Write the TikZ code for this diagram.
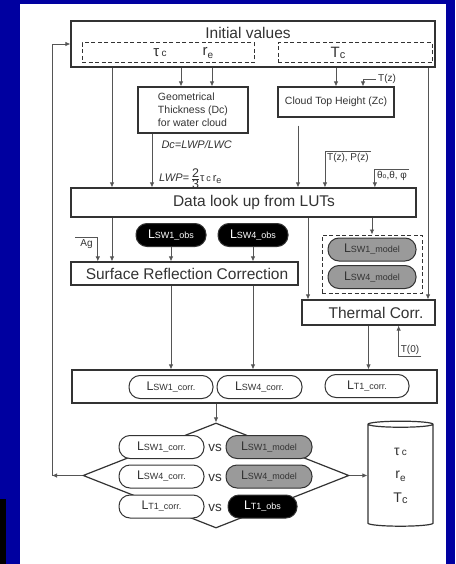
\documentclass[tikz,border=0pt]{standalone}
\usepackage{fontspec}
\setmainfont{Liberation Sans}
\usepackage{amsmath}
\usetikzlibrary{arrows.meta,positioning,shapes.geometric}
\definecolor{SlideBlue}{HTML}{0000A0}
\definecolor{BoxLine}{HTML}{333333}
\definecolor{ArrLine}{HTML}{555555}
\definecolor{ModelGray}{HTML}{9A9A9A}
\newcommand{\fsz}[2]{\fontsize{#1}{#2}\selectfont}
\newcommand{\Lname}[1]{{\fsz{12.5}{14}L}{\fsz{9}{11}#1}}

\begin{document}
\begin{tikzpicture}[x=1pt,y=-1pt,
  box/.style={draw=BoxLine,line width=1.2pt,fill=white,inner sep=0pt,text=BoxLine,font=\fsz{15.5}{18}},
  smallbox/.style={box,font=\fsz{10.5}{13}},
  dbox/.style={draw=BoxLine,line width=1pt,dash pattern=on 4pt off 2.5pt,inner sep=0pt},
  pill/.style={draw=BoxLine,line width=1pt,rounded corners=11pt,minimum height=23pt,inner sep=0pt,text=BoxLine},
  obspill/.style={pill,fill=black,text=white,minimum width=70pt},
  mdlpill/.style={pill,fill=ModelGray,minimum width=88pt},
  corpill/.style={pill,fill=white,minimum width=85pt},
  arr/.style={draw=ArrLine,line width=0.8pt,-{Latex[length=5pt,width=4.5pt]}},
  lbl/.style={font=\fsz{10}{12},text=BoxLine,inner sep=2pt}]
  \useasboundingbox (0,0) rectangle (455,564);
  \fill[SlideBlue] (0,0) rectangle (455,564);
  \fill[white] (20,4) rectangle (446,564);
  \fill[black] (0,499) rectangle (6,564);

  % x positions of the vertical connectors
  \coordinate (xa) at (112,0);
  \coordinate (xtau) at (181,0);
  \coordinate (xre) at (212,0);
  \coordinate (xgeo) at (152,0);
  \coordinate (xcth) at (298,0);
  \coordinate (xtz) at (363,0);
  \coordinate (xth) at (308,0);
  \coordinate (xr) at (428,0);
  \coordinate (fb) at (52,475.5);

  % initial values
  \node[box,minimum width=364pt,minimum height=46pt] (init) at (253,44) {};
  \node[font=\fsz{15.5}{18},text=BoxLine] (initlbl) at (248,33) {Initial values};
  \node[dbox,minimum width=172pt,minimum height=20pt] (clddash) at (168,53) {};
  \node[dbox,minimum width=154pt,minimum height=20pt] (tcdash) at (355,53) {};
  \node[font=\fsz{15}{18},text=BoxLine] (tau) at (160,53) {τ\,{\fsz{10}{12}c}};
  \node[font=\fsz{15}{18},text=BoxLine] (re) at (208,53) {r\raisebox{-2.5pt}{\fsz{10}{12}e}};
  \node[font=\fsz{15}{18},text=BoxLine] (tc) at (338,53) {T\raisebox{-1pt}{\fsz{11}{12}c}};

  % second row
  \node[smallbox,minimum width=110pt,minimum height=46pt,align=left] (geom) at (193,110)
    {Geometrical\\Thickness (Dc)\\for water cloud};
  \node[smallbox,minimum width=116pt,minimum height=30pt] (cth) at (336,102) {Cloud Top Height (Zc)};
  \coordinate (cthgap) at ([yshift=-8pt]cth.south);
  \node[font=\fsz{11}{13}\itshape,text=BoxLine,anchor=west] (dclbl) at (158,145) {Dc=LWP/LWC};

  % look up and corrections
  \node[box,minimum width=345pt,minimum height=29pt] (lut) at (243.5,202.5) {\hspace*{21pt}Data look up from LUTs};
  \node[font=\fsz{11}{13},text=BoxLine,anchor=base west,inner sep=1pt] (lwplbl) at (158,181.5)
    {\textit{LWP=}\,$\tfrac{\text{\fsz{12.5}{13}2}}{\text{\fsz{12.5}{13}3}}$τ\,{\fsz{9}{10}c}\,r\raisebox{-2pt}{\fsz{9}{10}e}};
  \node[obspill] (obs1) at (171,235) {\Lname{SW1\_obs}};
  \node[obspill] (obs2) at (253,235) {\Lname{SW4\_obs}};
  \node[box,minimum width=227pt,minimum height=23pt] (surf) at (184.5,273.5) {\hspace*{5pt}Surface Reflection Correction};
  \node[dbox,minimum width=100pt,minimum height=58pt] (mdlbox) at (372,264) {};
  \node[mdlpill] (mdl1) at (372,249.5) {\Lname{SW1\_model}};
  \node[mdlpill] (mdl2) at (372,277) {\Lname{SW4\_model}};
  \node[box,minimum width=133pt,minimum height=25pt] (thermal) at (368.5,312.5) {\hspace*{15pt}Thermal Corr.};

  % corrected radiances
  \node[box,minimum width=365pt,minimum height=33pt] (corrbox) at (254.5,386.5) {};
  \node[corpill,minimum width=84pt] (cor1) at (171,387) {\Lname{SW1\_corr.}};
  \node[corpill] (cor2) at (259.5,387) {\Lname{SW4\_corr.}};
  \node[corpill,minimum width=84pt] (cort) at (367,386) {\Lname{T1\_corr.}};

  % comparison
  \node[diamond,draw=BoxLine,line width=1.2pt,minimum width=266pt,minimum height=105pt,inner sep=0pt] (cmp) at (216,475.5) {};
  \node[corpill] (c1) at (161.5,447) {\Lname{SW1\_corr.}};
  \node[corpill] (c2) at (161.5,476.5) {\Lname{SW4\_corr.}};
  \node[corpill] (c3) at (161.5,506.5) {\Lname{T1\_corr.}};
  \node[mdlpill,minimum width=86pt] (m1) at (269,447) {\Lname{SW1\_model}};
  \node[mdlpill,minimum width=86pt] (m2) at (269,476.5) {\Lname{SW4\_model}};
  \node[obspill,minimum width=69pt] (o3) at (262.5,506.5) {\Lname{T1\_obs}};
  \node[lbl,font=\fsz{13.5}{15}] (vs1) at (215,448) {vs};
  \node[lbl,font=\fsz{13.5}{15}] (vs2) at (215,478) {vs};
  \node[lbl,font=\fsz{13.5}{15}] (vs3) at (215,508) {vs};

  % results
  \node[cylinder,shape border rotate=90,draw=BoxLine,line width=1.2pt,aspect=0.43,
        minimum width=65pt,minimum height=105pt,inner sep=0pt,align=center,
        font=\fsz{14}{23.5},text=BoxLine] (db) at (400.5,475.5)
    {τ\,{\fsz{10}{12}c}\\r\raisebox{-2.5pt}{\fsz{10}{12}e}\\T\raisebox{-1pt}{\fsz{11}{12}c}};

  % side inputs
  \node[lbl,anchor=west] (tzlbl) at (376,79) {T(z)};
  \node[lbl] (tplbl) at (348,158) {T(z), P(z)};
  \node[lbl] (anglbl) at (392,176) {θ{\fsz{7}{8}o},θ, φ};
  \node[lbl,inner xsep=5pt] (aglbl) at (86.5,244) {Ag};
  \node[lbl] (t0lbl) at (410,350) {T(0)};

  % connectors
  \draw[arr] (init.south -| xa) -- (lut.north -| xa);
  \draw[arr] (init.south -| xtau) -- (geom.north -| xtau);
  \draw[arr] (init.south -| xre) -- (geom.north -| xre);
  \draw[arr] (init.south -| cth.north) -- (cth.north);
  \draw[arr] (init.south -| xr) -- (thermal.north -| xr);
  \draw[arr] (tzlbl.west) -| (cth.north -| xtz);
  \draw[arr] (geom.south -| xgeo) -- (lut.north -| xgeo);
  \draw[arr] (cthgap -| xcth) -- (lut.north -| xcth);
  \draw[arr] (tplbl.north east) -| (lut.north -| tplbl.north west);
  \draw[arr] (anglbl.north east) -| (lut.north -| anglbl.north west);
  \draw[arr] (lut.south -| xa) -- (surf.north -| xa);
  \draw[arr] (aglbl.north west) -| (surf.north -| aglbl.north east);
  \draw[arr] (obs1.south) -- (surf.north -| obs1.south);
  \draw[arr] (obs2.south) -- (surf.north -| obs2.south);
  \draw[arr] (lut.south -| xth) -- (thermal.north -| xth);
  \draw[arr] (lut.south -| mdlbox.north) -- (mdlbox.north);
  \draw[arr] (t0lbl.south east) -| (thermal.south -| t0lbl.south west);
  \draw[arr] (surf.south -| obs1.south) -- (corrbox.north -| obs1.south);
  \draw[arr] (surf.south -| obs2.south) -- (corrbox.north -| obs2.south);
  \draw[arr] (thermal.south) -- (corrbox.north -| thermal.south);
  \draw[arr] (corrbox.south -| cmp.north) -- (cmp.north);
  \draw[arr] (cmp.west) -- (fb);
  \draw[arr] (fb) |- (init.west);
  \draw[arr] (cmp.east) -- (cmp.east -| db.west);
\end{tikzpicture}
\end{document}
